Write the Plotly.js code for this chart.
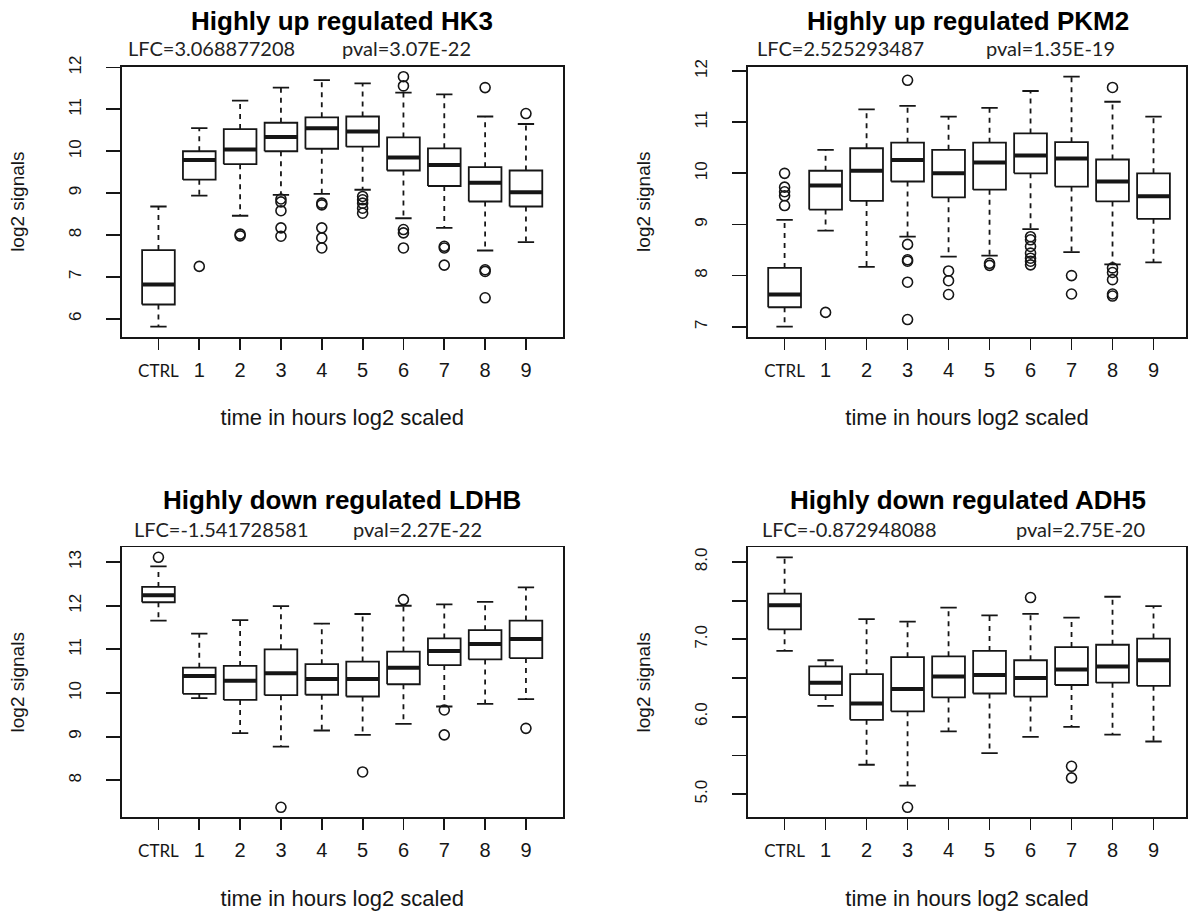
<!DOCTYPE html>
<html><head><meta charset="utf-8">
<script src="https://cdn.plot.ly/plotly-3.0.1.min.js"></script>
<style>body{margin:0;background:#fff}</style>
</head><body><div id="chart" style="width:1192px;height:911px"></div>
<script>
// ---------- data ----------
const categories = ["CTRL","1","2","3","4","5","6","7","8","9"];

// HK3 (highly up regulated)
const hk3Lo  = [5.81, 8.94, 8.46, 8.96, 8.98, 9.08, 8.40, 8.17, 7.63, 7.83];
const hk3Q1  = [6.34, 9.32, 9.69, 10.00, 10.06, 10.11, 9.54, 9.17, 8.80, 8.68];
const hk3Med = [6.82, 9.79, 10.04, 10.34, 10.55, 10.47, 9.85, 9.67, 9.25, 9.02];
const hk3Q3  = [7.64, 10.00, 10.53, 10.68, 10.81, 10.83, 10.33, 10.07, 9.62, 9.54];
const hk3Hi  = [8.68, 10.55, 11.21, 11.52, 11.70, 11.62, 11.40, 11.36, 10.83, 10.65];
const hk3OutCat = ["1","2","2","3","3","3","3","3","4","4","4","4","4","5","5","5","5","5","6","6","6","6","6","7","7","7","8","8","8","8","9"];
const hk3OutVal = [7.25, 8.02, 7.98, 8.86, 8.79, 8.58, 8.17, 7.97, 8.76, 8.72, 8.17, 7.93, 7.69, 8.92, 8.84, 8.76, 8.64, 8.52, 11.78, 11.56, 8.13, 8.05, 7.69, 7.73, 7.69, 7.28, 11.52, 7.17, 7.13, 6.50, 10.90];

// PKM2 (highly up regulated)
const pkmLo  = [7.00, 8.88, 8.17, 8.76, 8.37, 8.39, 8.91, 8.46, 8.22, 8.26];
const pkmQ1  = [7.38, 9.29, 9.46, 9.84, 9.53, 9.68, 10.00, 9.74, 9.45, 9.11];
const pkmMed = [7.63, 9.76, 10.05, 10.26, 10.00, 10.21, 10.35, 10.29, 9.84, 9.55];
const pkmQ3  = [8.15, 10.05, 10.49, 10.60, 10.46, 10.60, 10.78, 10.61, 10.27, 10.00];
const pkmHi  = [9.09, 10.46, 11.25, 11.32, 11.11, 11.28, 11.61, 11.89, 11.40, 11.11];
const pkmOutCat = ["CTRL","CTRL","CTRL","CTRL","CTRL","1","3","3","3","3","3","3","4","4","4","5","5","6","6","6","6","6","6","6","7","7","8","8","8","8","8","8"];
const pkmOutVal = [10.00, 9.73, 9.64, 9.56, 9.37, 7.28, 11.82, 8.61, 8.31, 8.28, 7.87, 7.14, 8.09, 7.90, 7.63, 8.24, 8.20, 8.76, 8.70, 8.57, 8.44, 8.34, 8.28, 8.21, 8.00, 7.64, 11.68, 8.15, 8.06, 7.92, 7.64, 7.60];

// LDHB (highly down regulated)
const ldhLo  = [11.66, 9.88, 9.08, 8.77, 9.14, 9.04, 9.29, 9.69, 9.75, 9.86];
const ldhQ1  = [12.08, 9.98, 9.84, 9.95, 9.96, 9.92, 10.20, 10.64, 10.77, 10.80];
const ldhMed = [12.24, 10.39, 10.28, 10.45, 10.32, 10.32, 10.58, 10.96, 11.12, 11.24];
const ldhQ3  = [12.43, 10.58, 10.62, 11.00, 10.66, 10.72, 10.95, 11.25, 11.44, 11.66];
const ldhHi  = [12.90, 11.36, 11.67, 11.99, 11.59, 11.81, 12.00, 12.03, 12.09, 12.42];
const ldhOutCat = ["CTRL","3","5","6","7","7","9"];
const ldhOutVal = [13.11, 7.38, 8.19, 12.14, 9.61, 9.04, 9.19];

// ADH5 (highly down regulated)
const adhLo  = [6.85, 6.14, 5.38, 5.11, 5.81, 5.53, 5.74, 5.87, 5.77, 5.68];
const adhQ1  = [7.13, 6.28, 5.96, 6.07, 6.25, 6.30, 6.26, 6.41, 6.44, 6.40];
const adhMed = [7.44, 6.44, 6.17, 6.36, 6.52, 6.54, 6.50, 6.61, 6.65, 6.73];
const adhQ3  = [7.59, 6.65, 6.55, 6.77, 6.78, 6.85, 6.73, 6.90, 6.93, 7.01];
const adhHi  = [8.06, 6.73, 7.26, 7.23, 7.41, 7.31, 7.33, 7.28, 7.55, 7.43];
const adhOutCat = ["3","6","7","7"];
const adhOutVal = [4.83, 7.54, 5.36, 5.21];

// titles / texts
const panelTitles = ["Highly up regulated HK3","Highly up regulated PKM2","Highly down regulated LDHB","Highly down regulated ADH5"];
const lfcTexts  = ["LFC=3.068877208","LFC=2.525293487","LFC=-1.541728581","LFC=-0.872948088"];
const pvalTexts = ["pval=3.07E-22","pval=1.35E-19","pval=2.27E-22","pval=2.75E-20"];
const xTitle = "time in hours log2 scaled";
const yTitle = "log2 signals";
const yTicks1 = [6,7,8,9,10,11,12];
const yTicks2 = [7,8,9,10,11,12];
const yTicks3 = [8,9,10,11,12,13];
const yTicks4 = [5.0,5.5,6.0,6.5,7.0,7.5,8.0];
const yTickText4 = ["5.0","","6.0","","7.0","","8.0"];

// ---------- drawing ----------
const W = 1192, H = 911;
const INK = "#161616";
const boxHalf = 0.4, stapleHalf = 0.2;

function pos(cat){ return categories.indexOf(cat) + 1; }

function panelTraces(lo, q1, med, q3, hi, outCat, outVal, xa, ya){
  const bx=[], by=[], wx=[], wy=[], sx=[], sy=[], mx=[], my=[];
  for(let i=0;i<categories.length;i++){
    const c = pos(categories[i]);
    bx.push(c-boxHalf,c+boxHalf,c+boxHalf,c-boxHalf,c-boxHalf,null);
    by.push(q1[i],q1[i],q3[i],q3[i],q1[i],null);
    wx.push(c,c,null,c,c,null);
    wy.push(q3[i],hi[i],null,q1[i],lo[i],null);
    sx.push(c-stapleHalf,c+stapleHalf,null,c-stapleHalf,c+stapleHalf,null);
    sy.push(hi[i],hi[i],null,lo[i],lo[i],null);
    mx.push(c-boxHalf,c+boxHalf,null);
    my.push(med[i],med[i],null);
  }
  const common = {xaxis:xa, yaxis:ya, showlegend:false, hoverinfo:"skip", mode:"lines"};
  return [
    Object.assign({}, common, {x:wx, y:wy, line:{color:INK, width:1.8, dash:"5px,5px"}}),
    Object.assign({}, common, {x:sx, y:sy, line:{color:INK, width:1.8}}),
    Object.assign({}, common, {x:bx, y:by, line:{color:INK, width:1.8}}),
    Object.assign({}, common, {x:mx, y:my, line:{color:INK, width:4}}),
    {x:outCat.map(pos), y:outVal, xaxis:xa, yaxis:ya, type:"scatter", mode:"markers", showlegend:false,
     marker:{symbol:"circle-open", size:10, color:INK, line:{width:1.6, color:INK}}}
  ];
}

function yRange(lo, hi, outVal){
  const all = lo.concat(hi, outVal);
  const mn = Math.min(...all), mx = Math.max(...all), s = mx - mn;
  return [mn - 0.04*s, mx + 0.04*s];
}

const data = [].concat(
  panelTraces(hk3Lo,hk3Q1,hk3Med,hk3Q3,hk3Hi,hk3OutCat,hk3OutVal,"x","y"),
  panelTraces(pkmLo,pkmQ1,pkmMed,pkmQ3,pkmHi,pkmOutCat,pkmOutVal,"x2","y2"),
  panelTraces(ldhLo,ldhQ1,ldhMed,ldhQ3,ldhHi,ldhOutCat,ldhOutVal,"x3","y3"),
  panelTraces(adhLo,adhQ1,adhMed,adhQ3,adhHi,adhOutCat,adhOutVal,"x4","y4")
);

const tickText = categories.map(c => c === "CTRL" ? '<span style="font-family:Lato;font-size:17px">CTRL</span>' : c);

function xAxis(domain, anchor, xmax){
  return {domain:domain, anchor:anchor, range:[0.1, xmax], tickmode:"array",
    tickvals:categories.map(pos), ticktext:tickText, ticks:"outside", ticklen:11, tickwidth:1.8,
    tickcolor:INK, showline:true, mirror:true, linecolor:INK, linewidth:1.8, showgrid:false, zeroline:false,
    tickfont:{family:"Liberation Sans, Arial, sans-serif", size:20, color:INK}, ticklabelstandoff:3,
    title:{text:xTitle, font:{family:"Liberation Sans, Arial, sans-serif", size:22, color:INK}, standoff:30},
    fixedrange:true};
}
function yAxis(domain, anchor, range, tv, tt){
  return {domain:domain, anchor:anchor, range:range, tickmode:"array", tickvals:tv, ticktext:tt || tv.map(String),
    ticks:"outside", ticklen:14, tickwidth:1.8, tickcolor:INK, tickangle:-90, ticklabelstandoff:18,
    showline:true, mirror:true, linecolor:INK, linewidth:1.8, showgrid:false, zeroline:false,
    tickfont:{family:"Liberation Sans, Arial, sans-serif", size:17, color:INK},
    title:{text:yTitle, font:{family:"Liberation Sans, Arial, sans-serif", size:19, color:INK}, standoff:36},
    fixedrange:true};
}

const pxX = v => v / W;
const pxY = v => 1 - v / H;

const xdL = [pxX(121.7), pxX(562.7)], xdR = [pxX(747.7), pxX(1186.3)];
const ydT = [pxY(336.7), pxY(66.7)], ydB = [pxY(817.3), pxY(547.3)];

const titleFont = {family:"Liberation Sans, Arial, sans-serif", size:26, color:"#000"};
const subFont = {family:"Lato, 'Open Sans', sans-serif", size:20, color:"#222"};
const annSpec = [
  {t:0, cx:342, ty:20.7, lx:126, px:340, sy:48.3},
  {t:1, cx:968, ty:20.7, lx:755, px:984, sy:48.3},
  {t:2, cx:342, ty:500, lx:132, px:351, sy:529},
  {t:3, cx:968, ty:500, lx:760, px:1014, sy:529}
];
const annotations = [];
annSpec.forEach(a => {
  annotations.push({text:"<b>"+panelTitles[a.t]+"</b>", xref:"paper", yref:"paper", x:pxX(a.cx), y:pxY(a.ty),
    xanchor:"center", yanchor:"middle", showarrow:false, font:titleFont});
  annotations.push({text:lfcTexts[a.t], xref:"paper", yref:"paper", x:pxX(a.lx), y:pxY(a.sy),
    xanchor:"left", yanchor:"middle", showarrow:false, font:subFont});
  annotations.push({text:pvalTexts[a.t], xref:"paper", yref:"paper", x:pxX(a.px), y:pxY(a.sy),
    xanchor:"left", yanchor:"middle", showarrow:false, font:subFont});
});

const layout = {
  width:W, height:H, margin:{l:0,r:0,t:0,b:0},
  paper_bgcolor:"#fff", plot_bgcolor:"#fff", showlegend:false,
  xaxis: xAxis(xdL,"y",10.9),
  yaxis: yAxis(ydT,"x",yRange(hk3Lo,hk3Hi,hk3OutVal),yTicks1),
  xaxis2: xAxis(xdR,"y2",10.8),
  yaxis2: yAxis(ydT,"x2",yRange(pkmLo,pkmHi,pkmOutVal),yTicks2),
  xaxis3: xAxis(xdL,"y3",10.9),
  yaxis3: yAxis(ydB,"x3",yRange(ldhLo,ldhHi,ldhOutVal),yTicks3),
  xaxis4: xAxis(xdR,"y4",10.8),
  yaxis4: yAxis(ydB,"x4",yRange(adhLo,adhHi,adhOutVal),yTicks4,yTickText4),
  annotations: annotations
};

Plotly.newPlot("chart", data, layout, {displayModeBar:false, staticPlot:true});
</script>
</body></html>
